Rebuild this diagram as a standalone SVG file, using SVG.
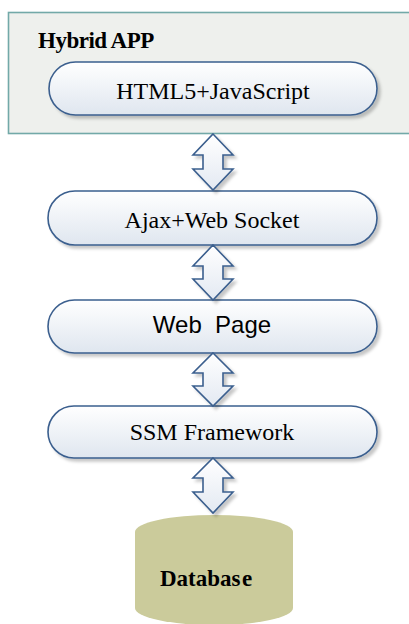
<svg xmlns="http://www.w3.org/2000/svg" width="409" height="624" viewBox="0 0 409 624">
<defs>
<linearGradient id="pg" x1="0" y1="0" x2="0" y2="1">
<stop offset="0" stop-color="#ffffff"/>
<stop offset="1" stop-color="#dfe6ef"/>
</linearGradient>
<linearGradient id="ag" x1="0" y1="0" x2="0" y2="1">
<stop offset="0" stop-color="#ffffff"/>
<stop offset="1" stop-color="#e3e9f2"/>
</linearGradient>
<filter id="sh" x="-10%" y="-20%" width="130%" height="150%">
<feDropShadow dx="3" dy="3" stdDeviation="1.5" flood-color="#000" flood-opacity="0.22"/>
</filter>
<style>
.pill{fill:url(#pg);stroke:#3b5f8e;stroke-width:1.6;filter:url(#sh)}
.arr{fill:url(#ag);stroke:#3b5f8e;stroke-width:1.6;stroke-linejoin:miter;filter:url(#sh)}
.t{font-family:"Liberation Serif","Times New Roman",serif;font-size:24px;fill:#000;text-anchor:middle}
.s{font-family:"Liberation Sans",Arial,sans-serif;font-size:24px;fill:#000;text-anchor:middle}
.b{font-family:"Liberation Serif","Times New Roman",serif;font-weight:bold;font-size:23px;fill:#000}
</style>
</defs>
<rect width="409" height="624" fill="#ffffff"/>
<g id="hybrid-app">
<rect x="8.5" y="12.5" width="404" height="121" fill="#eef0ed" stroke="#72a9a8" stroke-width="1.6"/>
<text class="b" x="38" y="48" letter-spacing="-0.5">Hybrid APP</text>
</g>
<g id="html5">
<rect class="pill" x="49" y="62" width="328" height="53" rx="26.5"/>
<text class="t" x="213" y="99">HTML5+JavaScript</text>
</g>
<g id="ajax">
<rect class="pill" x="48" y="191" width="329" height="54" rx="27"/>
<text class="t" x="212" y="228">Ajax+Web Socket</text>
</g>
<g id="webpage">
<rect class="pill" x="48" y="300" width="329" height="53" rx="26.5"/>
<text class="s" x="212" y="333" xml:space="preserve">Web  Page</text>
</g>
<g id="ssm">
<rect class="pill" x="48" y="406" width="329" height="52" rx="26"/>
<text class="t" x="212" y="440">SSM Framework</text>
</g>
<g id="database">
<path d="M135,532 A79,17 0 0 1 293,532 L293,608 A79,17 0 0 1 135,608 Z" fill="#cbcb9b"/>
<text class="b" x="160" y="586" font-size="22">Databas<tspan dx="1.5">e</tspan></text>
</g>
<g id="connectors">
<path class="arr" d="M213,134 L233,155 L223,155 L223,169 L233,169 L213,190 L193,169 L203,169 L203,155 L193,155 Z"/>
<path class="arr" d="M213,245 L233,266 L223,266 L223,279 L233,279 L213,300 L193,279 L203,279 L203,266 L193,266 Z"/>
<path class="arr" d="M213,353 L233,373 L223,373 L223,386 L233,386 L213,406 L193,386 L203,386 L203,373 L193,373 Z"/>
<path class="arr" d="M213,458 L233,478 L223,478 L223,492 L233,492 L213,513 L193,492 L203,492 L203,478 L193,478 Z"/>
</g>
</svg>
